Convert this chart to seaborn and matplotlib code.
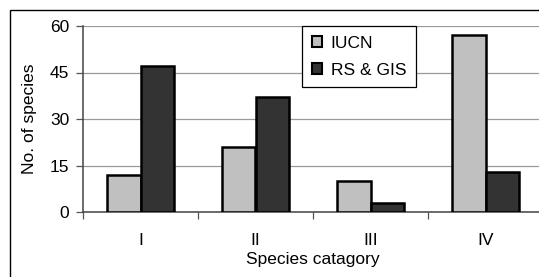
import matplotlib
matplotlib.use("Agg")
import matplotlib.pyplot as plt
import seaborn as sns
import pandas as pd
from matplotlib.patches import Rectangle

# Data
categories = ['I', 'II', 'III', 'IV']
iucn = [12, 21, 10, 57]
rs_gis = [47, 37, 3, 13]
series_names = ['IUCN', 'RS & GIS']
colors = ['#c0c0c0', '#333333']

df = pd.DataFrame({
    'category': categories * 2,
    'value': iucn + rs_gis,
    'series': [series_names[0]] * len(categories) + [series_names[1]] * len(categories),
})

sns.set_style("white")
plt.rcParams['font.family'] = ['Liberation Sans', 'DejaVu Sans']
plt.rcParams['text.color'] = 'black'
plt.rcParams['axes.labelcolor'] = 'black'
plt.rcParams['xtick.labelcolor'] = 'black'
plt.rcParams['ytick.labelcolor'] = 'black'
fs = 12.5

fig = plt.figure(figsize=(5.39, 2.77), dpi=100)
# plot area runs past the right edge, as in the cropped original
ax = fig.add_axes([83 / 539, 65 / 277, 460 / 539, 186 / 277])

sns.barplot(data=df, x='category', y='value', hue='series', order=categories,
            hue_order=series_names, palette=colors, width=0.58, gap=0,
            edgecolor='black', linewidth=1.8, saturation=1, ax=ax, zorder=3)

ax.set_xlim(-0.5, len(categories) - 0.5)
ax.set_ylim(0, 60)
ax.set_yticks([0, 15, 30, 45, 60])
ax.yaxis.grid(True, color='#9a9a9a', linewidth=0.9, zorder=0)
ax.set_axisbelow(True)

# category separators as major ticks, labels on minor ticks
ax.set_xticks([i - 0.5 for i in range(len(categories) + 1)])
ax.set_xticklabels([])
ax.set_xticks(range(len(categories)), minor=True)
ax.set_xticklabels(categories, minor=True)
ax.tick_params(axis='x', which='major', direction='out', length=5, width=0.9,
               color='#555555', bottom=True)
ax.tick_params(axis='x', which='minor', length=0, pad=15, labelsize=fs)
ax.tick_params(axis='y', direction='out', length=5, width=0.9, color='#555555',
               left=True, labelsize=fs, pad=5)

for side in ['top', 'right']:
    ax.spines[side].set_visible(False)
for side in ['left', 'bottom']:
    ax.spines[side].set_color('#444444')
    ax.spines[side].set_linewidth(1.1)

ax.set_xlabel('Species catagory', fontsize=fs, labelpad=3)
ax.set_ylabel('No. of species', fontsize=fs, labelpad=9)

leg = ax.legend(loc='upper left', bbox_to_anchor=((302 - 83) / 460, 1.0),
                frameon=True, fancybox=False, fontsize=fs, handlelength=0.6,
                handleheight=0.6, handletextpad=0.5, labelspacing=0.7,
                borderpad=0.55, borderaxespad=0)
leg.get_frame().set_edgecolor('black')
leg.get_frame().set_linewidth(0.9)
leg.get_frame().set_alpha(1)
for h in leg.legend_handles:
    h.set_linewidth(1.5)

# outer chart border (only left and top are inside the crop)
fig.patches.append(Rectangle((10 / 539, -0.1), 1.2, (277 - 10) / 277 + 0.1,
                             transform=fig.transFigure, fill=False,
                             edgecolor='black', linewidth=1.0))

fig.savefig('out.png', dpi=100)
